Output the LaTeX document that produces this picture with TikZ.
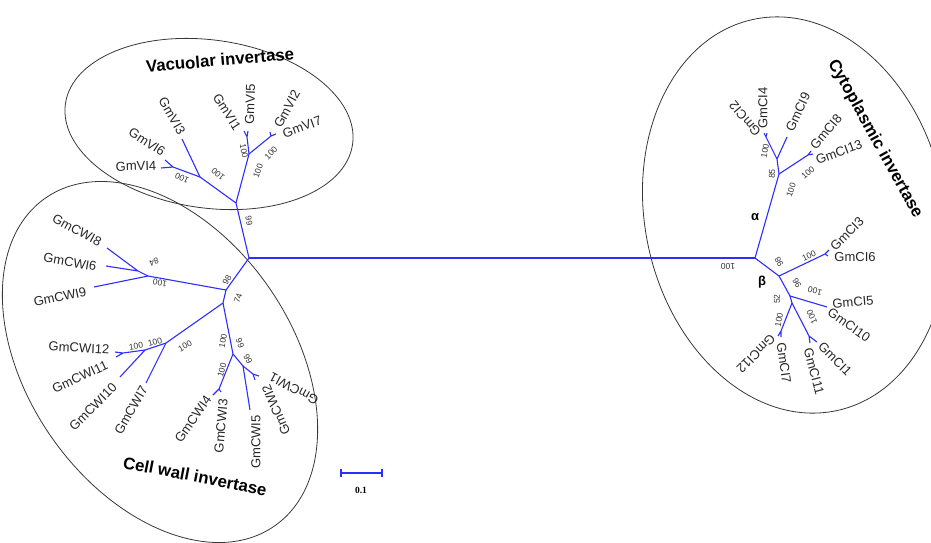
\documentclass[tikz,border=0pt]{standalone}
\usepackage{fontspec}
\setmainfont{Liberation Sans}
\newfontfamily\serifbold{Liberation Serif}[BoldFont={Liberation Serif Bold}]
\usepackage{tikz}
\definecolor{treeblue}{RGB}{45, 45, 255}
\definecolor{rim}{RGB}{55, 55, 55}

\begin{document}
\begin{tikzpicture}[x=1pt, y=-1pt,
    branch/.style={draw=treeblue, line width=1.1pt, line join=round},
    clade/.style={draw=rim, line width=0.8pt},
    leaf/.style={inner sep=0pt, font=\fontsize{13}{14}\selectfont, text=black!85},
    boot/.style={inner sep=0pt, font=\fontsize{8.5}{10}\selectfont, text=black!80},
    heading/.style={inner sep=0pt, font=\bfseries\fontsize{16.8}{18}\selectfont},
    greek/.style={inner sep=0pt, font=\bfseries\fontsize{13}{15}\selectfont}
  ]
    \useasboundingbox (0,0) rectangle (931,542);

    \draw[clade, rotate around={-8:(209,124)}] (209,124) ellipse [x radius=145, y radius=84];
    \draw[clade, rotate around={-55:(160,362)}] (160,362) ellipse [x radius=200, y radius=132];
    \draw[clade, rotate around={12:(795,215)}] (795,215) ellipse [x radius=150, y radius=200];

    \coordinate (r1) at (249,258);
    \coordinate (r2) at (755,258);

    \coordinate (v0) at (236,203);
    \coordinate (v1) at (200,177);
    \coordinate (v2) at (173,167);
    \coordinate (v3) at (249,154);
    \coordinate (v4) at (247,137);
    \coordinate (v5) at (271,136);
    \coordinate (tVI1) at (244,131);
    \coordinate (tVI2) at (270,132);
    \coordinate (tVI3) at (182,139);
    \coordinate (tVI4) at (161,168);
    \coordinate (tVI5) at (248,131);
    \coordinate (tVI6) at (165,160);
    \coordinate (tVI7) at (276,134);

    \coordinate (c0) at (226,290);
    \coordinate (c1) at (148,276);
    \coordinate (c2) at (138,271);
    \coordinate (c3) at (223,303);
    \coordinate (c4) at (166,343);
    \coordinate (c5) at (145,350);
    \coordinate (c6) at (123,353);
    \coordinate (c7) at (233,354);
    \coordinate (c8) at (219,389);
    \coordinate (c9) at (243,366);
    \coordinate (c10) at (253,374);
    \coordinate (tCWI1) at (259,376);
    \coordinate (tCWI2) at (255,380);
    \coordinate (tCWI3) at (221,392);
    \coordinate (tCWI4) at (213,395);
    \coordinate (tCWI5) at (250,410);
    \coordinate (tCWI6) at (106,266);
    \coordinate (tCWI7) at (146,383);
    \coordinate (tCWI8) at (107,248);
    \coordinate (tCWI9) at (94,287);
    \coordinate (tCWI10) at (120,377);
    \coordinate (tCWI11) at (116,357);
    \coordinate (tCWI12) at (115,352);

    \coordinate (a1) at (779,174);
    \coordinate (a2) at (777,159);
    \coordinate (a3) at (766,137);
    \coordinate (a4) at (808,155);
    \coordinate (b1) at (779,276);
    \coordinate (b2) at (825,254);
    \coordinate (b3) at (790,296);
    \coordinate (b4) at (792,303);
    \coordinate (b5) at (781,331);
    \coordinate (b6) at (809,336);
    \coordinate (tCI1) at (817,342);
    \coordinate (tCI2) at (764,133);
    \coordinate (tCI3) at (829,250);
    \coordinate (tCI4) at (767,133);
    \coordinate (tCI5) at (827,307);
    \coordinate (tCI6) at (828,256);
    \coordinate (tCI7) at (781,337);
    \coordinate (tCI8) at (811,151);
    \coordinate (tCI9) at (787,137);
    \coordinate (tCI11) at (810,343);
    \coordinate (tCI12) at (778,336);
    \coordinate (tCI13) at (813,154);

    \draw[branch] (r1) -- (r2);
    \draw[branch] (r1) -- (v0) -- (v1) -- (tVI3);
    \draw[branch] (v1) -- (v2) -- (tVI4) (v2) -- (tVI6);
    \draw[branch] (v0) -- (v3) -- (v4) -- (tVI1) (v4) -- (tVI5);
    \draw[branch] (v3) -- (v5) -- (tVI2) (v5) -- (tVI7);

    \draw[branch] (r1) -- (c0) -- (c1) -- (c2) -- (tCWI8) (c2) -- (tCWI6);
    \draw[branch] (c1) -- (tCWI9);
    \draw[branch] (c0) -- (c3) -- (c4) -- (c5) -- (c6) -- (tCWI12) (c6) -- (tCWI11);
    \draw[branch] (c5) -- (tCWI10);
    \draw[branch] (c4) -- (tCWI7);
    \draw[branch] (c3) -- (c7) -- (c8) -- (tCWI4) (c8) -- (tCWI3);
    \draw[branch] (c7) -- (c9) -- (tCWI5);
    \draw[branch] (c9) -- (c10) -- (tCWI1) (c10) -- (tCWI2);

    \draw[branch] (r2) -- (a1) -- (a2) -- (a3) -- (tCI2) (a3) -- (tCI4);
    \draw[branch] (a2) -- (tCI9);
    \draw[branch] (a1) -- (a4) -- (tCI8) (a4) -- (tCI13);
    \draw[branch] (r2) -- (b1) -- (b2) -- (tCI3) (b2) -- (tCI6);
    \draw[branch] (b1) -- (b3) -- (tCI5);
    \draw[branch] (b3) -- (b4) -- (b5) -- (tCI12) (b5) -- (tCI7);
    \draw[branch] (b4) -- (b6) -- (tCI1) (b6) -- (tCI11);

    \node[leaf, rotate=2] (nVI4) at (136,166) {GmVI4};
    \node[leaf, rotate=-33] (nVI6) at (147,142) {GmVI6};
    \node[leaf, rotate=-60] (nVI3) at (172,116) {GmVI3};
    \node[leaf, rotate=-58] (nVI1) at (227,112) {GmVI1};
    \node[leaf, rotate=88] (nVI5) at (250,104) {GmVI5};
    \node[leaf, rotate=62] (nVI2) at (287,109) {GmVI2};
    \node[leaf, rotate=20] (nVI7) at (302,127) {GmVI7};

    \node[leaf, rotate=-28] (nCWI8) at (77,230) {GmCWI8};
    \node[leaf, rotate=-10] (nCWI6) at (70,262) {GmCWI6};
    \node[leaf, rotate=12] (nCWI9) at (60,297) {GmCWI9};
    \node[leaf, rotate=-3] (nCWI12) at (79,348) {GmCWI12};
    \node[leaf, rotate=25] (nCWI11) at (80,377) {GmCWI11};
    \node[leaf, rotate=45] (nCWI10) at (93,407) {GmCWI10};
    \node[leaf, rotate=60] (nCWI7) at (131,410) {GmCWI7};
    \node[leaf, rotate=55] (nCWI4) at (193,419) {GmCWI4};
    \node[leaf, rotate=85] (nCWI3) at (221,426) {GmCWI3};
    \node[leaf, rotate=90] (nCWI5) at (256,442) {GmCWI5};
    \node[leaf, rotate=113] (nCWI2) at (276,410) {GmCWI2};
    \node[leaf, rotate=152] (nCWI1) at (294,389) {GmCWI1};

    \node[leaf, rotate=130] (nCI2) at (745,119) {GmCI2};
    \node[leaf, rotate=90] (nCI4) at (763,108) {GmCI4};
    \node[leaf, rotate=65] (nCI9) at (798,112) {GmCI9};
    \node[leaf, rotate=50] (nCI8) at (826,132) {GmCI8};
    \node[leaf, rotate=20] (nCI13) at (839,152) {GmCI13};
    \node[leaf, rotate=45] (nCI3) at (847,234) {GmCI3};
    \node[leaf] (nCI6) at (855,257) {GmCI6};
    \node[leaf, rotate=5] (nCI5) at (853,302) {GmCI5};
    \node[leaf, rotate=-35] (nCI10) at (849,325) {GmCI10};
    \node[leaf, rotate=-45] (nCI1) at (835,359) {GmCI1};
    \node[leaf, rotate=-75] (nCI11) at (814,371) {GmCI11};
    \node[leaf, rotate=-82] (nCI7) at (784,363) {GmCI7};
    \node[leaf, rotate=-135] (nCI12) at (756,354) {GmCI12};

    \node[boot, rotate=155] (bv1) at (182,178) {100};
    \node[boot, rotate=140] (bv2) at (218,174) {100};
    \node[boot, rotate=-80] (bv3) at (244,151) {100};
    \node[boot, rotate=45] (bv4) at (271,153) {100};
    \node[boot, rotate=70] (bv5) at (258,171) {100};
    \node[boot, rotate=-80] (bv6) at (249,221) {99};

    \node[boot, rotate=200] (bc1) at (154,262) {84};
    \node[boot, rotate=170] (bc2) at (160,283) {100};
    \node[boot, rotate=60] (bc3) at (227,280) {98};
    \node[boot, rotate=70] (bc4) at (238,298) {74};
    \node[boot, rotate=10] (bc5) at (136,346) {100};
    \node[boot, rotate=15] (bc6) at (155,342) {100};
    \node[boot, rotate=30] (bc7) at (185,346) {100};
    \node[boot, rotate=80] (bc8) at (223,341) {100};
    \node[boot, rotate=-70] (bc9) at (240,343) {99};
    \node[boot, rotate=75] (bc10) at (222,370) {100};
    \node[boot, rotate=-60] (bc11) at (248,359) {99};

    \node[boot, rotate=180] (bi1) at (728,266) {100};
    \node[boot, rotate=72] (bi2) at (791,190) {100};
    \node[boot, rotate=85] (bi3) at (772,174) {85};
    \node[boot, rotate=80] (bi4) at (765,151) {100};
    \node[boot, rotate=40] (bi5) at (808,173) {100};
    \node[boot, rotate=120] (bi6) at (779,262) {98};
    \node[boot, rotate=25] (bi7) at (809,256) {100};
    \node[boot, rotate=-60] (bi8) at (797,283) {96};
    \node[boot, rotate=165] (bi9) at (815,291) {100};
    \node[boot, rotate=90] (bi10) at (777,299) {52};
    \node[boot, rotate=80] (bi11) at (779,320) {100};
    \node[boot, rotate=115] (bi12) at (812,317) {100};

    \node[greek] (alpha) at (755,217) {α};
    \node[greek] (beta) at (762,282) {β};

    \node[heading, rotate=5] (vac) at (220,60) {Vacuolar invertase};
    \node[heading, rotate=-11] (cwall) at (195,476) {Cell wall invertase};
    \node[heading, rotate=-61] (cyto) at (875,139) {Cytoplasmic invertase};

    \coordinate (s1) at (341,473);
    \coordinate (s2) at (382,473);
    \coordinate (s1u) at (341,469);
    \coordinate (s1d) at (341,477);
    \coordinate (s2u) at (382,469);
    \coordinate (s2d) at (382,477);
    \draw[branch] (s1) -- (s2) (s1u) -- (s1d) (s2u) -- (s2d);
    \node[inner sep=0pt, font=\serifbold\bfseries\fontsize{9.5}{10}\selectfont] (unit) at (361,490) {0.1};
  \end{tikzpicture}
\end{document}
